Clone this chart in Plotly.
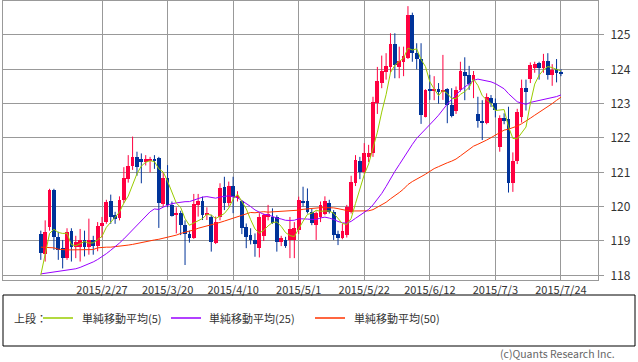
import plotly.graph_objects as go
import pandas as pd

# ---- data (USD/JPY daily) ----
dates = pd.bdate_range("2015-02-09", "2015-07-24")

opens = [119.19, 118.62, 119.40, 120.49, 119.12, 118.79, 118.50, 119.30, 118.82, 118.83,
         119.03, 118.83, 119.03, 118.85, 119.44, 119.56, 120.15, 119.76, 119.66, 120.19,
         120.80, 121.17, 121.46, 121.40, 121.30, 121.35, 121.40, 121.41, 120.08, 120.83,
         120.05, 119.76, 119.81, 119.47, 119.20, 119.10, 120.05, 120.15, 119.76, 119.71,
         118.95, 119.71, 120.58, 120.12, 120.60, 120.24, 120.15, 119.42, 119.17, 119.03,
         118.79, 119.15, 119.70, 119.71, 119.71, 118.98, 119.03, 119.03, 119.03, 119.32,
         120.17, 120.15, 119.85, 119.47, 119.71, 119.80, 120.12, 119.85, 119.20, 119.10,
         119.17, 119.85, 120.68, 121.34, 121.02, 121.46, 121.55, 123.03, 123.60, 123.93,
         124.08, 124.75, 124.08, 124.20, 124.32, 125.58, 124.47, 124.29, 122.62, 123.42,
         123.36, 123.42, 123.34, 123.42, 122.96, 122.80, 123.40, 123.93, 123.83, 123.69,
         122.69, 122.50, 122.45, 123.17, 123.03, 121.75, 122.57, 122.55, 120.70, 121.32,
         122.60, 123.45, 123.71, 124.05, 124.17, 124.03, 124.24, 123.83, 124.00, 123.93]
highs = [119.30, 119.60, 120.52, 120.52, 119.27, 119.03, 119.37, 119.37, 119.15, 119.35,
         119.30, 119.65, 119.15, 119.55, 119.70, 120.20, 120.35, 119.85, 120.30, 121.15,
         121.50, 122.04, 121.60, 121.55, 121.50, 121.45, 121.50, 121.45, 121.00, 121.21,
         120.15, 119.98, 119.88, 119.60, 119.30, 120.37, 120.37, 120.29, 119.98, 119.76,
         119.71, 120.68, 120.87, 120.73, 120.87, 120.45, 120.19, 119.51, 119.37, 119.22,
         119.81, 119.80, 120.05, 119.95, 119.75, 119.15, 119.12, 119.70, 119.55, 120.29,
         120.58, 120.53, 119.95, 119.86, 120.15, 120.30, 120.20, 119.90, 119.30, 119.50,
         120.05, 120.90, 121.50, 121.45, 121.85, 121.80, 123.20, 124.07, 124.40, 124.47,
         125.05, 125.05, 124.66, 124.66, 125.84, 125.65, 124.76, 124.76, 123.42, 123.84,
         123.80, 123.60, 124.42, 123.45, 123.45, 123.50, 124.22, 124.35, 124.10, 123.95,
         123.20, 123.10, 123.30, 123.25, 123.15, 122.66, 122.72, 122.91, 121.58, 122.85,
         123.70, 123.70, 124.20, 124.22, 124.22, 124.45, 124.47, 124.15, 124.30, 124.00]
lows = [118.45, 118.40, 119.30, 118.74, 118.45, 118.20, 118.45, 118.40, 118.50, 118.40,
        118.55, 118.60, 118.60, 118.70, 119.10, 119.50, 119.50, 119.50, 119.60, 120.10,
        120.70, 121.07, 120.90, 120.68, 121.20, 121.00, 121.10, 119.38, 120.00, 119.98,
        119.71, 119.22, 119.17, 118.30, 118.95, 119.06, 119.71, 119.61, 119.61, 118.69,
        118.91, 119.60, 119.90, 120.02, 119.81, 120.15, 119.20, 118.79, 118.90, 118.54,
        118.52, 119.00, 119.60, 119.50, 118.69, 118.85, 118.80, 118.50, 118.50, 119.20,
        120.00, 119.80, 119.46, 119.03, 119.55, 119.75, 119.80, 119.03, 118.88, 119.05,
        119.10, 119.80, 120.60, 120.80, 120.95, 121.30, 121.45, 122.70, 123.45, 123.70,
        123.90, 123.74, 123.74, 123.80, 124.30, 124.22, 124.00, 122.41, 122.60, 123.11,
        123.10, 123.00, 123.11, 122.43, 122.60, 122.70, 123.35, 123.10, 123.40, 123.16,
        122.30, 121.94, 122.40, 122.90, 122.60, 121.60, 122.40, 120.41, 120.43, 121.24,
        122.45, 122.80, 123.60, 123.90, 123.70, 123.90, 123.70, 123.52, 123.62, 123.80]
closes = [118.64, 119.25, 120.49, 119.12, 118.74, 118.50, 119.27, 118.82, 118.98, 119.03,
          118.83, 119.03, 118.85, 119.44, 119.53, 120.14, 119.70, 119.65, 120.19, 120.83,
          121.17, 121.46, 121.15, 121.30, 121.38, 121.40, 121.33, 120.10, 120.83, 120.05,
          119.73, 119.81, 119.47, 119.20, 119.08, 120.08, 120.15, 119.76, 119.81, 118.98,
          119.56, 120.53, 120.12, 120.60, 120.27, 120.31, 119.37, 119.13, 119.03, 118.91,
          119.71, 119.76, 119.78, 119.53, 118.98, 119.08, 118.85, 119.34, 119.39, 120.19,
          120.10, 119.85, 119.51, 119.81, 120.05, 120.15, 119.85, 119.17, 119.08, 119.30,
          120.00, 120.73, 121.36, 121.02, 121.55, 121.55, 123.06, 123.66, 123.95, 124.10,
          124.75, 124.12, 124.24, 124.40, 125.58, 124.47, 124.29, 122.67, 123.40, 123.36,
          123.42, 123.34, 123.40, 122.96, 122.64, 123.40, 123.95, 123.81, 123.57, 123.83,
          122.50, 122.45, 123.20, 123.03, 122.82, 122.57, 122.52, 120.70, 121.32, 122.77,
          123.45, 123.35, 124.13, 124.15, 124.05, 124.24, 123.83, 123.98, 123.88, 123.85]

# moving-average values before enough displayed closes exist
ma5_head = [118.01, 118.64, 119.22, 119.34]
ma25_head = [118.04, 118.06, 118.08, 118.10, 118.12, 118.13, 118.14, 118.16, 118.19, 118.23,
             118.28, 118.33, 118.39, 118.46, 118.54, 118.63, 118.73, 118.83, 118.94, 119.06,
             119.19, 119.32, 119.45, 119.60]
ma50_head = [118.82, 118.82, 118.82, 118.80, 118.76, 118.74, 118.74, 118.74, 118.74, 118.74,
             118.74, 118.74, 118.75, 118.80, 118.82, 118.82, 118.82, 118.83, 118.85, 118.86,
             118.88, 118.90, 118.93, 118.96, 118.98, 119.00, 119.03, 119.05, 119.08, 119.10,
             119.13, 119.17, 119.22, 119.25, 119.28, 119.32, 119.37, 119.40, 119.43, 119.46,
             119.50, 119.54, 119.58, 119.62, 119.66, 119.70, 119.76, 119.80, 119.83]

tick_dates = ["2015-02-27", "2015-03-20", "2015-04-10", "2015-05-01",
              "2015-05-22", "2015-06-12", "2015-07-03", "2015-07-24"]
tick_labels = ["2015/2/27", "2015/3/20", "2015/4/10", "2015/5/1",
               "2015/5/22", "2015/6/12", "2015/7/3", "2015/7/24"]
y_ticks = [118, 119, 120, 121, 122, 123, 124, 125]

legend_names = ["単純移動平均(5)", "単純移動平均(25)", "単純移動平均(50)"]

# ---- derived ----
RED = "#FF0040"
BLUE = "#003399"
C_MA5 = "#99CC00"
C_MA25 = "#9900FF"
C_MA50 = "#FF3300"

n = len(dates)
idx = list(range(n))
date_pos = {d.strftime("%Y-%m-%d"): i for i, d in enumerate(dates)}
tick_pos = [date_pos[d] for d in tick_dates]

s = pd.Series(closes)
def ma(window, head):
    r = s.rolling(window).mean().tolist()
    return head + r[len(head):]
ma5 = ma(5, ma5_head)
ma25 = ma(25, ma25_head)
ma50 = ma(50, ma50_head)

up = [c >= o for o, c in zip(opens, closes)]
body_base = [min(o, c) for o, c in zip(opens, closes)]
body_h = [max(abs(c - o), 0.02) for o, c in zip(opens, closes)]
body_col = [RED if u else BLUE for u in up]

def wick_xy(flag):
    xs, ys = [], []
    for i in idx:
        if up[i] == flag:
            xs += [i, i, None]
            ys += [lows[i], highs[i], None]
    return xs, ys

fig = go.Figure()
for flag, col in [(True, RED), (False, BLUE)]:
    wx, wy = wick_xy(flag)
    fig.add_trace(go.Scatter(x=wx, y=wy, mode="lines", line=dict(color=col, width=1),
                             hoverinfo="skip", showlegend=False))
fig.add_trace(go.Bar(x=idx, y=body_h, base=body_base, width=0.86,
                     marker=dict(color=body_col, line=dict(width=0)),
                     hoverinfo="skip", showlegend=False))
for vals, col, name in [(ma50, C_MA50, legend_names[2]), (ma25, C_MA25, legend_names[1]),
                        (ma5, C_MA5, legend_names[0])]:
    fig.add_trace(go.Scatter(x=idx, y=vals, mode="lines", name=name,
                             line=dict(color=col, width=1), showlegend=False))

# pixel -> paper helpers (plot area spans x 3..598, y 1..280)
def px(x):
    return (x - 3) / 595.0
def py(y):
    return (280 - y) / 279.0

shapes = [dict(type="rect", xref="paper", yref="paper", x0=px(3), x1=px(635),
               y0=py(346), y1=py(295), line=dict(color="#000000", width=1))]
annotations = [dict(xref="paper", yref="paper", x=px(12), y=py(318), text="上段：",
                    showarrow=False, xanchor="left", yanchor="middle",
                    font=dict(size=11, color="#333333"))]
for (x0, tx), col, name in zip([(43, 80), (171, 207), (315, 352)],
                               [C_MA5, C_MA25, C_MA50], legend_names):
    shapes.append(dict(type="line", xref="paper", yref="paper", x0=px(x0), x1=px(x0 + 30),
                       y0=py(318), y1=py(318), line=dict(color=col, width=1.5)))
    annotations.append(dict(xref="paper", yref="paper", x=px(tx), y=py(318), text=name,
                            showarrow=False, xanchor="left", yanchor="middle",
                            font=dict(size=11, color="#333333")))
annotations.append(dict(xref="paper", yref="paper", x=px(617), y=py(353),
                        text="(c)Quants Research Inc.", showarrow=False,
                        xanchor="right", yanchor="middle",
                        font=dict(size=10.5, color="#666666")))

fig.update_layout(
    width=638, height=362,
    margin=dict(l=3, r=40, t=1, b=82),
    plot_bgcolor="white", paper_bgcolor="white",
    showlegend=False, barmode="overlay", bargap=0,
    font=dict(family="Noto Sans CJK JP, Noto Sans, sans-serif", size=11, color="#333333"),
    shapes=shapes, annotations=annotations,
    xaxis=dict(range=[-8.65, 127.48], tickmode="array", tickvals=tick_pos, ticktext=tick_labels,
               showgrid=True, gridcolor="#999999", gridwidth=1, zeroline=False,
               showline=True, mirror=True, linecolor="#999999", linewidth=1,
               ticks="", tickfont=dict(size=11, color="#333333")),
    yaxis=dict(range=[117.863, 125.99], side="right", tickmode="array", tickvals=y_ticks,
               showgrid=True, gridcolor="#999999", gridwidth=1, zeroline=False,
               showline=True, mirror=True, linecolor="#999999", linewidth=1,
               ticks="outside", ticklen=5, tickcolor="#999999", ticklabelstandoff=4,
               tickfont=dict(size=12, color="#333333")),
)

fig.write_html("out.html", config={"displayModeBar": False},
               post_script="document.body.style.margin='0';document.body.style.padding='0';")
